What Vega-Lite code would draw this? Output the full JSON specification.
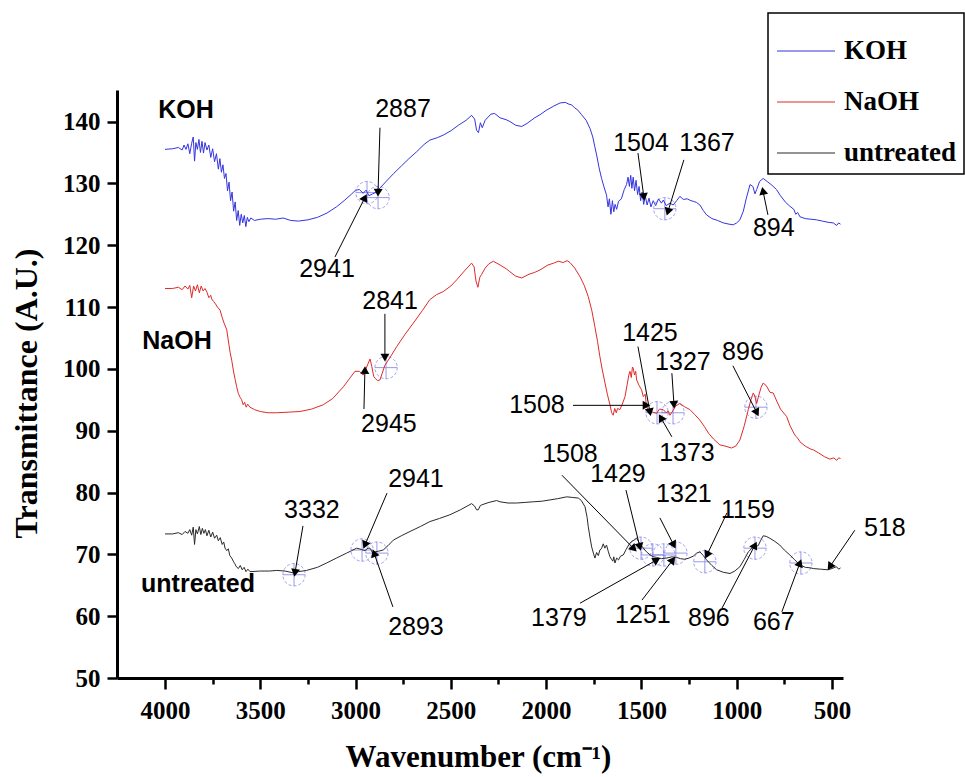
{
  "$schema": "https://vega.github.io/schema/vega-lite/v6.json",
  "width": 726,
  "height": 588,
  "autosize": {"type": "none"},
  "padding": {"left": 117, "top": 90, "right": 122, "bottom": 99},
  "background": "white",
  "config": {
    "view": {"stroke": null},
    "axis": {"grid": false, "domainColor": "black", "domainWidth": 3, "tickColor": "black", "tickWidth": 2.5,
      "labelFont": "Liberation Serif", "labelFontWeight": "bold", "labelFontSize": 25, "labelColor": "black",
      "titleFont": "Liberation Serif", "titleFontWeight": "bold", "titleFontSize": 31, "titleColor": "black"},
    "legend": {"orient": "none", "legendX": 651, "legendY": -77, "strokeColor": "black", "strokeWidth": 1.5, "fillColor": "white",
      "padding": 8, "symbolType": "stroke", "symbolSize": 3364, "symbolStrokeWidth": 1.2,
      "labelFont": "Liberation Serif", "labelFontWeight": "bold", "labelFontSize": 27, "labelColor": "black", "labelOffset": 8, "rowPadding": 8}
  },
  "datasets": {
    "spectra": [
      {"s":"KOH","wn":4000,"t":135.5},{"s":"KOH","wn":3960,"t":135.6},{"s":"KOH","wn":3930,"t":135.8},{"s":"KOH","wn":3910,"t":135.4},{"s":"KOH","wn":3900,"t":136.2},{"s":"KOH","wn":3890,"t":135.5},{"s":"KOH","wn":3880,"t":136.4},{"s":"KOH","wn":3870,"t":134.8},{"s":"KOH","wn":3860,"t":136.5},{"s":"KOH","wn":3852,"t":137.5},{"s":"KOH","wn":3845,"t":133.6},{"s":"KOH","wn":3838,"t":136.6},{"s":"KOH","wn":3830,"t":135.5},{"s":"KOH","wn":3822,"t":137.1},{"s":"KOH","wn":3814,"t":135.0},{"s":"KOH","wn":3806,"t":136.8},{"s":"KOH","wn":3798,"t":134.9},{"s":"KOH","wn":3790,"t":136.6},{"s":"KOH","wn":3780,"t":135.4},{"s":"KOH","wn":3770,"t":136.2},{"s":"KOH","wn":3760,"t":134.2},{"s":"KOH","wn":3750,"t":135.6},{"s":"KOH","wn":3740,"t":133.5},{"s":"KOH","wn":3730,"t":134.8},{"s":"KOH","wn":3720,"t":132.3},{"s":"KOH","wn":3712,"t":134.0},{"s":"KOH","wn":3704,"t":131.8},{"s":"KOH","wn":3696,"t":133.0},{"s":"KOH","wn":3688,"t":130.8},{"s":"KOH","wn":3680,"t":131.6},{"s":"KOH","wn":3672,"t":128.8},{"s":"KOH","wn":3664,"t":130.2},{"s":"KOH","wn":3656,"t":127.2},{"s":"KOH","wn":3648,"t":128.6},{"s":"KOH","wn":3640,"t":125.5},{"s":"KOH","wn":3632,"t":127.0},{"s":"KOH","wn":3624,"t":124.0},{"s":"KOH","wn":3616,"t":125.6},{"s":"KOH","wn":3608,"t":123.2},{"s":"KOH","wn":3600,"t":125.0},{"s":"KOH","wn":3592,"t":123.6},{"s":"KOH","wn":3584,"t":124.8},{"s":"KOH","wn":3576,"t":123.0},{"s":"KOH","wn":3568,"t":124.5},{"s":"KOH","wn":3560,"t":123.8},{"s":"KOH","wn":3550,"t":124.4},{"s":"KOH","wn":3530,"t":124.0},{"s":"KOH","wn":3500,"t":124.2},{"s":"KOH","wn":3460,"t":124.3},{"s":"KOH","wn":3420,"t":124.2},{"s":"KOH","wn":3380,"t":124.4},{"s":"KOH","wn":3340,"t":124.0},{"s":"KOH","wn":3300,"t":123.9},{"s":"KOH","wn":3250,"t":124.1},{"s":"KOH","wn":3200,"t":124.5},{"s":"KOH","wn":3150,"t":125.2},{"s":"KOH","wn":3100,"t":126.2},{"s":"KOH","wn":3060,"t":127.2},{"s":"KOH","wn":3020,"t":128.3},{"s":"KOH","wn":3000,"t":128.9},{"s":"KOH","wn":2980,"t":129.0},{"s":"KOH","wn":2960,"t":128.4},{"s":"KOH","wn":2945,"t":128.9},{"s":"KOH","wn":2930,"t":128.0},{"s":"KOH","wn":2910,"t":128.3},{"s":"KOH","wn":2890,"t":128.6},{"s":"KOH","wn":2870,"t":129.3},{"s":"KOH","wn":2840,"t":130.3},{"s":"KOH","wn":2800,"t":131.6},{"s":"KOH","wn":2760,"t":132.8},{"s":"KOH","wn":2720,"t":134.0},{"s":"KOH","wn":2680,"t":135.1},{"s":"KOH","wn":2640,"t":136.3},{"s":"KOH","wn":2610,"t":137.0},{"s":"KOH","wn":2570,"t":137.4},{"s":"KOH","wn":2540,"t":137.8},{"s":"KOH","wn":2500,"t":138.5},{"s":"KOH","wn":2460,"t":139.4},{"s":"KOH","wn":2420,"t":140.2},{"s":"KOH","wn":2391,"t":141.0},{"s":"KOH","wn":2375,"t":140.4},{"s":"KOH","wn":2365,"t":138.6},{"s":"KOH","wn":2355,"t":138.2},{"s":"KOH","wn":2345,"t":139.8},{"s":"KOH","wn":2335,"t":139.0},{"s":"KOH","wn":2320,"t":140.2},{"s":"KOH","wn":2290,"t":141.2},{"s":"KOH","wn":2270,"t":141.3},{"s":"KOH","wn":2242,"t":140.6},{"s":"KOH","wn":2210,"t":140.3},{"s":"KOH","wn":2190,"t":140.0},{"s":"KOH","wn":2160,"t":139.4},{"s":"KOH","wn":2128,"t":139.2},{"s":"KOH","wn":2100,"t":139.7},{"s":"KOH","wn":2060,"t":140.6},{"s":"KOH","wn":2032,"t":141.1},{"s":"KOH","wn":2000,"t":141.8},{"s":"KOH","wn":1960,"t":142.5},{"s":"KOH","wn":1927,"t":143.0},{"s":"KOH","wn":1900,"t":143.1},{"s":"KOH","wn":1880,"t":142.8},{"s":"KOH","wn":1866,"t":142.7},{"s":"KOH","wn":1850,"t":142.2},{"s":"KOH","wn":1835,"t":141.9},{"s":"KOH","wn":1814,"t":141.1},{"s":"KOH","wn":1790,"t":140.2},{"s":"KOH","wn":1770,"t":138.9},{"s":"KOH","wn":1755,"t":137.5},{"s":"KOH","wn":1745,"t":136.0},{"s":"KOH","wn":1735,"t":134.6},{"s":"KOH","wn":1722,"t":132.5},{"s":"KOH","wn":1709,"t":130.8},{"s":"KOH","wn":1696,"t":129.4},{"s":"KOH","wn":1683,"t":128.1},{"s":"KOH","wn":1675,"t":126.2},{"s":"KOH","wn":1668,"t":127.5},{"s":"KOH","wn":1660,"t":125.0},{"s":"KOH","wn":1652,"t":127.2},{"s":"KOH","wn":1645,"t":125.4},{"s":"KOH","wn":1638,"t":126.6},{"s":"KOH","wn":1630,"t":125.8},{"s":"KOH","wn":1620,"t":127.1},{"s":"KOH","wn":1605,"t":127.5},{"s":"KOH","wn":1590,"t":129.0},{"s":"KOH","wn":1578,"t":129.8},{"s":"KOH","wn":1570,"t":131.0},{"s":"KOH","wn":1563,"t":129.5},{"s":"KOH","wn":1556,"t":131.3},{"s":"KOH","wn":1550,"t":129.2},{"s":"KOH","wn":1543,"t":131.0},{"s":"KOH","wn":1536,"t":128.8},{"s":"KOH","wn":1528,"t":130.5},{"s":"KOH","wn":1520,"t":128.2},{"s":"KOH","wn":1512,"t":129.5},{"s":"KOH","wn":1504,"t":127.2},{"s":"KOH","wn":1496,"t":128.6},{"s":"KOH","wn":1488,"t":126.6},{"s":"KOH","wn":1480,"t":128.0},{"s":"KOH","wn":1470,"t":126.5},{"s":"KOH","wn":1460,"t":127.6},{"s":"KOH","wn":1450,"t":126.2},{"s":"KOH","wn":1438,"t":127.2},{"s":"KOH","wn":1425,"t":126.4},{"s":"KOH","wn":1410,"t":127.5},{"s":"KOH","wn":1395,"t":126.8},{"s":"KOH","wn":1385,"t":127.3},{"s":"KOH","wn":1370,"t":126.4},{"s":"KOH","wn":1350,"t":126.8},{"s":"KOH","wn":1333,"t":126.5},{"s":"KOH","wn":1315,"t":127.2},{"s":"KOH","wn":1298,"t":127.9},{"s":"KOH","wn":1280,"t":127.4},{"s":"KOH","wn":1260,"t":127.5},{"s":"KOH","wn":1240,"t":127.2},{"s":"KOH","wn":1228,"t":127.1},{"s":"KOH","wn":1210,"t":126.9},{"s":"KOH","wn":1193,"t":126.5},{"s":"KOH","wn":1175,"t":125.6},{"s":"KOH","wn":1158,"t":124.9},{"s":"KOH","wn":1130,"t":124.3},{"s":"KOH","wn":1100,"t":124.0},{"s":"KOH","wn":1070,"t":123.6},{"s":"KOH","wn":1040,"t":123.4},{"s":"KOH","wn":1018,"t":123.3},{"s":"KOH","wn":1000,"t":123.6},{"s":"KOH","wn":983,"t":124.1},{"s":"KOH","wn":965,"t":125.5},{"s":"KOH","wn":950,"t":127.5},{"s":"KOH","wn":930,"t":129.8},{"s":"KOH","wn":915,"t":129.5},{"s":"KOH","wn":904,"t":128.3},{"s":"KOH","wn":895,"t":129.0},{"s":"KOH","wn":880,"t":130.3},{"s":"KOH","wn":861,"t":130.8},{"s":"KOH","wn":840,"t":130.3},{"s":"KOH","wn":815,"t":129.7},{"s":"KOH","wn":791,"t":129.0},{"s":"KOH","wn":770,"t":128.0},{"s":"KOH","wn":745,"t":127.0},{"s":"KOH","wn":721,"t":126.3},{"s":"KOH","wn":700,"t":125.8},{"s":"KOH","wn":690,"t":125.0},{"s":"KOH","wn":680,"t":125.3},{"s":"KOH","wn":668,"t":124.6},{"s":"KOH","wn":640,"t":124.3},{"s":"KOH","wn":610,"t":124.2},{"s":"KOH","wn":581,"t":124.1},{"s":"KOH","wn":550,"t":123.9},{"s":"KOH","wn":520,"t":123.7},{"s":"KOH","wn":493,"t":123.6},{"s":"KOH","wn":475,"t":123.2},{"s":"KOH","wn":465,"t":123.6},{"s":"KOH","wn":455,"t":123.4},
      {"s":"NaOH","wn":4000,"t":113.0},{"s":"NaOH","wn":3960,"t":113.0},{"s":"NaOH","wn":3930,"t":113.2},{"s":"NaOH","wn":3910,"t":112.8},{"s":"NaOH","wn":3895,"t":113.4},{"s":"NaOH","wn":3880,"t":112.9},{"s":"NaOH","wn":3870,"t":113.5},{"s":"NaOH","wn":3860,"t":111.5},{"s":"NaOH","wn":3850,"t":113.4},{"s":"NaOH","wn":3840,"t":112.6},{"s":"NaOH","wn":3830,"t":113.6},{"s":"NaOH","wn":3820,"t":112.3},{"s":"NaOH","wn":3810,"t":113.4},{"s":"NaOH","wn":3800,"t":112.6},{"s":"NaOH","wn":3790,"t":113.0},{"s":"NaOH","wn":3780,"t":112.4},{"s":"NaOH","wn":3770,"t":111.5},{"s":"NaOH","wn":3760,"t":111.9},{"s":"NaOH","wn":3755,"t":111.3},{"s":"NaOH","wn":3745,"t":110.9},{"s":"NaOH","wn":3735,"t":110.5},{"s":"NaOH","wn":3725,"t":110.0},{"s":"NaOH","wn":3711,"t":109.5},{"s":"NaOH","wn":3700,"t":108.3},{"s":"NaOH","wn":3690,"t":107.4},{"s":"NaOH","wn":3676,"t":106.3},{"s":"NaOH","wn":3665,"t":104.0},{"s":"NaOH","wn":3658,"t":102.6},{"s":"NaOH","wn":3650,"t":101.4},{"s":"NaOH","wn":3640,"t":99.5},{"s":"NaOH","wn":3632,"t":98.3},{"s":"NaOH","wn":3624,"t":97.1},{"s":"NaOH","wn":3615,"t":96.0},{"s":"NaOH","wn":3606,"t":95.4},{"s":"NaOH","wn":3598,"t":95.0},{"s":"NaOH","wn":3590,"t":94.2},{"s":"NaOH","wn":3582,"t":94.6},{"s":"NaOH","wn":3574,"t":93.8},{"s":"NaOH","wn":3566,"t":94.3},{"s":"NaOH","wn":3554,"t":93.8},{"s":"NaOH","wn":3530,"t":93.4},{"s":"NaOH","wn":3500,"t":93.1},{"s":"NaOH","wn":3460,"t":92.9},{"s":"NaOH","wn":3414,"t":92.9},{"s":"NaOH","wn":3350,"t":93.0},{"s":"NaOH","wn":3292,"t":93.1},{"s":"NaOH","wn":3230,"t":93.5},{"s":"NaOH","wn":3169,"t":94.2},{"s":"NaOH","wn":3120,"t":95.2},{"s":"NaOH","wn":3064,"t":97.1},{"s":"NaOH","wn":3030,"t":98.5},{"s":"NaOH","wn":3003,"t":99.6},{"s":"NaOH","wn":2980,"t":99.6},{"s":"NaOH","wn":2960,"t":99.0},{"s":"NaOH","wn":2948,"t":99.8},{"s":"NaOH","wn":2935,"t":100.8},{"s":"NaOH","wn":2924,"t":101.6},{"s":"NaOH","wn":2915,"t":100.4},{"s":"NaOH","wn":2905,"t":98.8},{"s":"NaOH","wn":2898,"t":98.5},{"s":"NaOH","wn":2885,"t":98.1},{"s":"NaOH","wn":2872,"t":98.2},{"s":"NaOH","wn":2860,"t":99.3},{"s":"NaOH","wn":2846,"t":100.6},{"s":"NaOH","wn":2820,"t":101.8},{"s":"NaOH","wn":2784,"t":103.6},{"s":"NaOH","wn":2740,"t":105.6},{"s":"NaOH","wn":2697,"t":107.4},{"s":"NaOH","wn":2650,"t":109.4},{"s":"NaOH","wn":2610,"t":111.2},{"s":"NaOH","wn":2575,"t":112.0},{"s":"NaOH","wn":2540,"t":112.5},{"s":"NaOH","wn":2500,"t":113.4},{"s":"NaOH","wn":2469,"t":114.4},{"s":"NaOH","wn":2430,"t":115.8},{"s":"NaOH","wn":2391,"t":117.1},{"s":"NaOH","wn":2378,"t":116.5},{"s":"NaOH","wn":2368,"t":114.2},{"s":"NaOH","wn":2358,"t":113.2},{"s":"NaOH","wn":2348,"t":114.8},{"s":"NaOH","wn":2338,"t":115.3},{"s":"NaOH","wn":2320,"t":116.3},{"s":"NaOH","wn":2300,"t":117.0},{"s":"NaOH","wn":2277,"t":117.4},{"s":"NaOH","wn":2242,"t":116.8},{"s":"NaOH","wn":2210,"t":116.2},{"s":"NaOH","wn":2190,"t":115.7},{"s":"NaOH","wn":2160,"t":115.0},{"s":"NaOH","wn":2128,"t":114.7},{"s":"NaOH","wn":2090,"t":115.3},{"s":"NaOH","wn":2060,"t":115.6},{"s":"NaOH","wn":2032,"t":116.0},{"s":"NaOH","wn":1990,"t":116.8},{"s":"NaOH","wn":1960,"t":117.1},{"s":"NaOH","wn":1936,"t":117.4},{"s":"NaOH","wn":1910,"t":117.2},{"s":"NaOH","wn":1890,"t":117.5},{"s":"NaOH","wn":1875,"t":117.2},{"s":"NaOH","wn":1850,"t":116.3},{"s":"NaOH","wn":1822,"t":114.9},{"s":"NaOH","wn":1800,"t":113.5},{"s":"NaOH","wn":1779,"t":111.7},{"s":"NaOH","wn":1760,"t":109.4},{"s":"NaOH","wn":1744,"t":106.8},{"s":"NaOH","wn":1730,"t":104.4},{"s":"NaOH","wn":1718,"t":102.0},{"s":"NaOH","wn":1705,"t":99.8},{"s":"NaOH","wn":1691,"t":97.7},{"s":"NaOH","wn":1678,"t":95.8},{"s":"NaOH","wn":1665,"t":94.2},{"s":"NaOH","wn":1656,"t":92.9},{"s":"NaOH","wn":1648,"t":92.5},{"s":"NaOH","wn":1640,"t":93.6},{"s":"NaOH","wn":1632,"t":92.9},{"s":"NaOH","wn":1625,"t":93.6},{"s":"NaOH","wn":1613,"t":93.4},{"s":"NaOH","wn":1600,"t":94.3},{"s":"NaOH","wn":1586,"t":95.5},{"s":"NaOH","wn":1575,"t":97.4},{"s":"NaOH","wn":1566,"t":99.0},{"s":"NaOH","wn":1560,"t":99.6},{"s":"NaOH","wn":1553,"t":98.6},{"s":"NaOH","wn":1547,"t":100.3},{"s":"NaOH","wn":1543,"t":100.1},{"s":"NaOH","wn":1536,"t":99.0},{"s":"NaOH","wn":1530,"t":99.6},{"s":"NaOH","wn":1525,"t":98.2},{"s":"NaOH","wn":1512,"t":97.3},{"s":"NaOH","wn":1499,"t":96.6},{"s":"NaOH","wn":1490,"t":95.5},{"s":"NaOH","wn":1480,"t":95.9},{"s":"NaOH","wn":1473,"t":93.9},{"s":"NaOH","wn":1460,"t":93.2},{"s":"NaOH","wn":1440,"t":93.0},{"s":"NaOH","wn":1420,"t":92.8},{"s":"NaOH","wn":1405,"t":93.5},{"s":"NaOH","wn":1385,"t":93.4},{"s":"NaOH","wn":1370,"t":92.9},{"s":"NaOH","wn":1360,"t":93.2},{"s":"NaOH","wn":1350,"t":92.5},{"s":"NaOH","wn":1335,"t":93.2},{"s":"NaOH","wn":1320,"t":94.0},{"s":"NaOH","wn":1298,"t":94.4},{"s":"NaOH","wn":1275,"t":93.9},{"s":"NaOH","wn":1245,"t":93.4},{"s":"NaOH","wn":1220,"t":92.6},{"s":"NaOH","wn":1193,"t":91.7},{"s":"NaOH","wn":1170,"t":90.7},{"s":"NaOH","wn":1148,"t":89.6},{"s":"NaOH","wn":1120,"t":88.6},{"s":"NaOH","wn":1088,"t":87.7},{"s":"NaOH","wn":1060,"t":87.5},{"s":"NaOH","wn":1027,"t":87.2},{"s":"NaOH","wn":1005,"t":87.5},{"s":"NaOH","wn":983,"t":88.5},{"s":"NaOH","wn":960,"t":90.8},{"s":"NaOH","wn":939,"t":93.4},{"s":"NaOH","wn":925,"t":95.0},{"s":"NaOH","wn":913,"t":96.1},{"s":"NaOH","wn":905,"t":95.6},{"s":"NaOH","wn":895,"t":94.4},{"s":"NaOH","wn":885,"t":95.6},{"s":"NaOH","wn":872,"t":97.0},{"s":"NaOH","wn":861,"t":97.7},{"s":"NaOH","wn":845,"t":97.3},{"s":"NaOH","wn":825,"t":96.2},{"s":"NaOH","wn":808,"t":96.1},{"s":"NaOH","wn":790,"t":94.8},{"s":"NaOH","wn":770,"t":93.5},{"s":"NaOH","wn":738,"t":92.3},{"s":"NaOH","wn":720,"t":90.8},{"s":"NaOH","wn":700,"t":89.6},{"s":"NaOH","wn":690,"t":89.1},{"s":"NaOH","wn":680,"t":88.8},{"s":"NaOH","wn":668,"t":88.2},{"s":"NaOH","wn":640,"t":87.5},{"s":"NaOH","wn":610,"t":87.0},{"s":"NaOH","wn":598,"t":86.9},{"s":"NaOH","wn":570,"t":86.4},{"s":"NaOH","wn":540,"t":85.8},{"s":"NaOH","wn":511,"t":85.4},{"s":"NaOH","wn":490,"t":85.6},{"s":"NaOH","wn":475,"t":85.2},{"s":"NaOH","wn":465,"t":85.6},{"s":"NaOH","wn":455,"t":85.5},
      {"s":"untreated","wn":4000,"t":73.3},{"s":"untreated","wn":3960,"t":73.3},{"s":"untreated","wn":3930,"t":73.5},{"s":"untreated","wn":3910,"t":73.2},{"s":"untreated","wn":3895,"t":73.7},{"s":"untreated","wn":3880,"t":73.4},{"s":"untreated","wn":3870,"t":74.0},{"s":"untreated","wn":3860,"t":73.1},{"s":"untreated","wn":3852,"t":74.4},{"s":"untreated","wn":3845,"t":71.6},{"s":"untreated","wn":3838,"t":74.0},{"s":"untreated","wn":3830,"t":73.3},{"s":"untreated","wn":3820,"t":74.5},{"s":"untreated","wn":3812,"t":73.2},{"s":"untreated","wn":3804,"t":74.2},{"s":"untreated","wn":3796,"t":73.4},{"s":"untreated","wn":3788,"t":74.0},{"s":"untreated","wn":3780,"t":73.0},{"s":"untreated","wn":3770,"t":73.9},{"s":"untreated","wn":3760,"t":72.8},{"s":"untreated","wn":3750,"t":73.6},{"s":"untreated","wn":3740,"t":72.6},{"s":"untreated","wn":3729,"t":73.1},{"s":"untreated","wn":3720,"t":72.2},{"s":"untreated","wn":3710,"t":72.7},{"s":"untreated","wn":3700,"t":71.6},{"s":"untreated","wn":3692,"t":72.0},{"s":"untreated","wn":3685,"t":71.0},{"s":"untreated","wn":3676,"t":70.6},{"s":"untreated","wn":3668,"t":70.9},{"s":"untreated","wn":3660,"t":69.8},{"s":"untreated","wn":3650,"t":69.4},{"s":"untreated","wn":3642,"t":68.9},{"s":"untreated","wn":3634,"t":68.5},{"s":"untreated","wn":3626,"t":68.0},{"s":"untreated","wn":3615,"t":67.7},{"s":"untreated","wn":3605,"t":68.2},{"s":"untreated","wn":3595,"t":67.5},{"s":"untreated","wn":3585,"t":67.9},{"s":"untreated","wn":3575,"t":67.2},{"s":"untreated","wn":3565,"t":67.6},{"s":"untreated","wn":3554,"t":67.2},{"s":"untreated","wn":3500,"t":67.3},{"s":"untreated","wn":3450,"t":67.3},{"s":"untreated","wn":3414,"t":67.4},{"s":"untreated","wn":3370,"t":67.3},{"s":"untreated","wn":3327,"t":67.0},{"s":"untreated","wn":3300,"t":67.2},{"s":"untreated","wn":3257,"t":67.4},{"s":"untreated","wn":3200,"t":67.9},{"s":"untreated","wn":3152,"t":68.6},{"s":"untreated","wn":3100,"t":69.4},{"s":"untreated","wn":3047,"t":70.2},{"s":"untreated","wn":3020,"t":70.6},{"s":"untreated","wn":2994,"t":71.0},{"s":"untreated","wn":2970,"t":70.8},{"s":"untreated","wn":2951,"t":70.6},{"s":"untreated","wn":2935,"t":71.0},{"s":"untreated","wn":2924,"t":71.0},{"s":"untreated","wn":2910,"t":70.2},{"s":"untreated","wn":2898,"t":70.4},{"s":"untreated","wn":2880,"t":70.5},{"s":"untreated","wn":2855,"t":70.7},{"s":"untreated","wn":2830,"t":71.4},{"s":"untreated","wn":2802,"t":72.3},{"s":"untreated","wn":2760,"t":73.0},{"s":"untreated","wn":2714,"t":73.7},{"s":"untreated","wn":2660,"t":74.5},{"s":"untreated","wn":2610,"t":75.3},{"s":"untreated","wn":2560,"t":75.8},{"s":"untreated","wn":2505,"t":76.4},{"s":"untreated","wn":2450,"t":77.2},{"s":"untreated","wn":2391,"t":78.2},{"s":"untreated","wn":2375,"t":77.8},{"s":"untreated","wn":2365,"t":77.2},{"s":"untreated","wn":2356,"t":77.2},{"s":"untreated","wn":2345,"t":77.9},{"s":"untreated","wn":2338,"t":78.0},{"s":"untreated","wn":2300,"t":78.4},{"s":"untreated","wn":2260,"t":78.7},{"s":"untreated","wn":2242,"t":78.5},{"s":"untreated","wn":2200,"t":78.3},{"s":"untreated","wn":2155,"t":78.3},{"s":"untreated","wn":2110,"t":78.4},{"s":"untreated","wn":2067,"t":78.5},{"s":"untreated","wn":2020,"t":78.6},{"s":"untreated","wn":1980,"t":78.8},{"s":"untreated","wn":1940,"t":79.0},{"s":"untreated","wn":1892,"t":79.3},{"s":"untreated","wn":1860,"t":79.2},{"s":"untreated","wn":1831,"t":79.1},{"s":"untreated","wn":1815,"t":78.7},{"s":"untreated","wn":1796,"t":77.7},{"s":"untreated","wn":1785,"t":76.0},{"s":"untreated","wn":1779,"t":74.5},{"s":"untreated","wn":1770,"t":72.8},{"s":"untreated","wn":1761,"t":71.2},{"s":"untreated","wn":1752,"t":70.2},{"s":"untreated","wn":1744,"t":69.4},{"s":"untreated","wn":1735,"t":70.3},{"s":"untreated","wn":1726,"t":69.8},{"s":"untreated","wn":1718,"t":70.7},{"s":"untreated","wn":1710,"t":70.9},{"s":"untreated","wn":1700,"t":71.7},{"s":"untreated","wn":1692,"t":71.0},{"s":"untreated","wn":1683,"t":71.5},{"s":"untreated","wn":1674,"t":70.5},{"s":"untreated","wn":1665,"t":69.6},{"s":"untreated","wn":1657,"t":69.2},{"s":"untreated","wn":1650,"t":68.9},{"s":"untreated","wn":1645,"t":69.6},{"s":"untreated","wn":1639,"t":68.6},{"s":"untreated","wn":1630,"t":69.4},{"s":"untreated","wn":1620,"t":69.1},{"s":"untreated","wn":1610,"t":69.7},{"s":"untreated","wn":1595,"t":69.9},{"s":"untreated","wn":1580,"t":70.8},{"s":"untreated","wn":1565,"t":71.6},{"s":"untreated","wn":1551,"t":72.1},{"s":"untreated","wn":1538,"t":72.3},{"s":"untreated","wn":1525,"t":72.6},{"s":"untreated","wn":1510,"t":71.8},{"s":"untreated","wn":1500,"t":71.4},{"s":"untreated","wn":1487,"t":70.9},{"s":"untreated","wn":1473,"t":70.4},{"s":"untreated","wn":1450,"t":69.8},{"s":"untreated","wn":1435,"t":69.6},{"s":"untreated","wn":1420,"t":69.5},{"s":"untreated","wn":1395,"t":69.3},{"s":"untreated","wn":1368,"t":69.4},{"s":"untreated","wn":1340,"t":69.6},{"s":"untreated","wn":1315,"t":69.5},{"s":"untreated","wn":1295,"t":69.3},{"s":"untreated","wn":1272,"t":69.2},{"s":"untreated","wn":1250,"t":69.4},{"s":"untreated","wn":1228,"t":69.7},{"s":"untreated","wn":1210,"t":70.2},{"s":"untreated","wn":1193,"t":70.4},{"s":"untreated","wn":1175,"t":69.8},{"s":"untreated","wn":1158,"t":69.1},{"s":"untreated","wn":1130,"t":68.2},{"s":"untreated","wn":1105,"t":67.5},{"s":"untreated","wn":1070,"t":67.1},{"s":"untreated","wn":1035,"t":66.9},{"s":"untreated","wn":1010,"t":67.3},{"s":"untreated","wn":983,"t":68.0},{"s":"untreated","wn":960,"t":69.2},{"s":"untreated","wn":939,"t":70.4},{"s":"untreated","wn":913,"t":71.2},{"s":"untreated","wn":887,"t":71.4},{"s":"untreated","wn":875,"t":72.2},{"s":"untreated","wn":861,"t":73.0},{"s":"untreated","wn":845,"t":72.9},{"s":"untreated","wn":826,"t":72.6},{"s":"untreated","wn":800,"t":72.1},{"s":"untreated","wn":774,"t":71.5},{"s":"untreated","wn":750,"t":70.7},{"s":"untreated","wn":721,"t":69.9},{"s":"untreated","wn":695,"t":69.1},{"s":"untreated","wn":668,"t":68.3},{"s":"untreated","wn":640,"t":67.9},{"s":"untreated","wn":610,"t":67.8},{"s":"untreated","wn":598,"t":67.7},{"s":"untreated","wn":560,"t":67.6},{"s":"untreated","wn":520,"t":67.5},{"s":"untreated","wn":500,"t":67.7},{"s":"untreated","wn":476,"t":68.0},{"s":"untreated","wn":465,"t":67.6},{"s":"untreated","wn":455,"t":67.8}
    ],
    "names": [
      {"label":"KOH","wn":3890,"t":141.9},{"label":"NaOH","wn":3937,"t":104.5},{"label":"untreated","wn":3827,"t":65.2}
    ],
    "numbers": [
      {"label":"2887","wn":2751,"t":142.1},{"label":"2941","wn":3150,"t":116.2},{"label":"1504","wn":1502,"t":136.6},{"label":"1367","wn":1156,"t":136.6},{"label":"894","wn":805,"t":122.8},
      {"label":"2841","wn":2819,"t":111.0},{"label":"2945","wn":2825,"t":91.1},{"label":"1508","wn":2048,"t":94.2},{"label":"1425","wn":1455,"t":105.8},{"label":"1327","wn":1282,"t":101.1},{"label":"1373","wn":1261,"t":86.4},{"label":"896","wn":967,"t":102.7},
      {"label":"3332","wn":3229,"t":77.2},{"label":"2941","wn":2683,"t":82.2},{"label":"2893","wn":2683,"t":58.3},{"label":"1508","wn":1875,"t":86.2},{"label":"1429","wn":1623,"t":83.0},{"label":"1321","wn":1277,"t":79.8},{"label":"1159","wn":941,"t":77.2},{"label":"896","wn":1146,"t":59.7},{"label":"667","wn":805,"t":59.1},{"label":"518","wn":222,"t":74.3},{"label":"1379","wn":1933,"t":59.7},{"label":"1251","wn":1492,"t":60.2}
    ],
    "arrows": [
      {"x1":2872,"y1":139.0,"x2":2882,"y2":128.5},{"x1":3108,"y1":118.1,"x2":2951,"y2":127.7},{"x1":1518,"y1":134.9,"x2":1487,"y2":127.8},{"x1":1277,"y1":133.8,"x2":1361,"y2":125.4},{"x1":836,"y1":124.9,"x2":862,"y2":128.8},
      {"x1":2846,"y1":108.9,"x2":2846,"y2":101.8},{"x1":2956,"y1":93.5,"x2":2951,"y2":99.8},{"x1":1859,"y1":94.1,"x2":1473,"y2":94.1},{"x1":1518,"y1":103.6,"x2":1455,"y2":93.0},{"x1":1340,"y1":99.3,"x2":1329,"y2":94.2},{"x1":1340,"y1":89.0,"x2":1398,"y2":92.1},{"x1":1020,"y1":100.5,"x2":894,"y2":92.9},
      {"x1":3276,"y1":74.6,"x2":3318,"y2":67.0},{"x1":2835,"y1":79.9,"x2":2951,"y2":71.5},{"x1":2804,"y1":61.5,"x2":2903,"y2":70.2},{"x1":1917,"y1":82.8,"x2":1539,"y2":70.9},{"x1":1581,"y1":80.4,"x2":1508,"y2":71.2},{"x1":1403,"y1":75.9,"x2":1330,"y2":71.5},{"x1":1051,"y1":76.7,"x2":1156,"y2":69.9},{"x1":1077,"y1":61.3,"x2":904,"y2":71.5},{"x1":763,"y1":60.7,"x2":668,"y2":68.6},{"x1":380,"y1":73.9,"x2":511,"y2":68.0},{"x1":1822,"y1":62.1,"x2":1419,"y2":69.1},{"x1":1497,"y1":62.6,"x2":1335,"y2":69.1}
    ],
    "circles": [
      {"wn":2940,"t":128.5},{"wn":2882,"t":127.7},{"wn":1377,"t":125.9},
      {"wn":2840,"t":100.2},{"wn":1418,"t":92.9},{"wn":1334,"t":92.9},{"wn":899,"t":93.8},
      {"wn":3323,"t":66.7},{"wn":2966,"t":70.7},{"wn":2888,"t":70.2},{"wn":1502,"t":71.0},{"wn":1440,"t":69.9},{"wn":1382,"t":69.9},{"wn":1319,"t":70.2},{"wn":1167,"t":68.8},{"wn":904,"t":71.0},{"wn":663,"t":68.6}
    ]
  },
  "layer": [
    {
      "data": {"name": "circles"},
      "mark": {"type": "point", "shape": "circle", "size": 500, "filled": false, "stroke": "#7b7be6", "strokeWidth": 1, "strokeDash": [3, 2]},
      "encoding": {
        "x": {"field": "wn", "type": "quantitative"},
        "y": {"field": "t", "type": "quantitative"}
      }
    },
    {
      "data": {"name": "circles"},
      "mark": {"type": "point", "shape": "M-1,0H1M0,-1V1", "size": 500, "filled": false, "stroke": "#6f6fe0", "strokeWidth": 1},
      "encoding": {
        "x": {"field": "wn", "type": "quantitative"},
        "y": {"field": "t", "type": "quantitative"}
      }
    },
    {
      "data": {"name": "spectra"},
      "mark": {"type": "line", "strokeWidth": 1, "interpolate": "linear"},
      "encoding": {
        "x": {"field": "wn", "type": "quantitative", "title": "Wavenumber (cm⁻¹)",
          "scale": {"domain": [442, 4252], "reverse": true, "nice": false, "zero": false},
          "axis": {"values": [500,750,1000,1250,1500,1750,2000,2250,2500,2750,3000,3250,3500,3750,4000],
            "labelExpr": "datum.value % 500 === 0 ? datum.label : ''", "format": "d",
            "tickSize": {"condition": {"test": "datum.value % 500 === 0", "value": 11}, "value": 6},
            "labelPadding": 9, "titleX": 361, "titleY": 88, "titleBaseline": "alphabetic", "titleAnchor": null, "titleAlign": "center"}},
        "y": {"field": "t", "type": "quantitative", "title": "Transmittance (A.U.)",
          "scale": {"domain": [50, 145.1], "nice": false, "zero": false},
          "axis": {"values": [50,55,60,65,70,75,80,85,90,95,100,105,110,115,120,125,130,135,140,145],
            "labelExpr": "datum.value % 10 === 0 ? datum.label : ''",
            "tickSize": {"condition": {"test": "datum.value % 10 === 0", "value": 10}, "value": 5},
            "labelPadding": 7, "titleX": -91, "titleY": 303, "titleAngle": -90, "titleAlign": "center", "titleBaseline": "middle", "titleFontSize": 32}},
        "color": {"field": "s", "type": "nominal", "title": null,
          "scale": {"domain": ["KOH", "NaOH", "untreated"], "range": ["#3434e0", "#e02a2a", "#2a2a2a"]}}
      }
    },
    {
      "data": {"name": "arrows"},
      "mark": {"type": "rule", "color": "black", "strokeWidth": 1},
      "encoding": {
        "x": {"field": "x1", "type": "quantitative"},
        "x2": {"field": "x2"},
        "y": {"field": "y1", "type": "quantitative"},
        "y2": {"field": "y2"}
      }
    },
    {
      "data": {"name": "arrows"},
      "transform": [{"calculate": "atan2(-(datum.x2 - datum.x1) * 0.19055, (datum.y2 - datum.y1) * 6.183) * 180 / PI", "as": "ang"}],
      "mark": {"type": "point", "shape": "triangle-up", "size": 80, "filled": true, "color": "black", "opacity": 1},
      "encoding": {
        "x": {"field": "x2", "type": "quantitative"},
        "y": {"field": "y2", "type": "quantitative"},
        "angle": {"field": "ang", "type": "quantitative", "scale": null}
      }
    },
    {
      "data": {"name": "names"},
      "mark": {"type": "text", "font": "Liberation Sans", "fontWeight": "bold", "fontSize": 25, "color": "black", "align": "center", "baseline": "middle"},
      "encoding": {
        "x": {"field": "wn", "type": "quantitative"},
        "y": {"field": "t", "type": "quantitative"},
        "text": {"field": "label"}
      }
    },
    {
      "data": {"name": "numbers"},
      "mark": {"type": "text", "font": "Liberation Sans", "fontSize": 25, "color": "black", "align": "center", "baseline": "middle"},
      "encoding": {
        "x": {"field": "wn", "type": "quantitative"},
        "y": {"field": "t", "type": "quantitative"},
        "text": {"field": "label"}
      }
    }
  ]
}
